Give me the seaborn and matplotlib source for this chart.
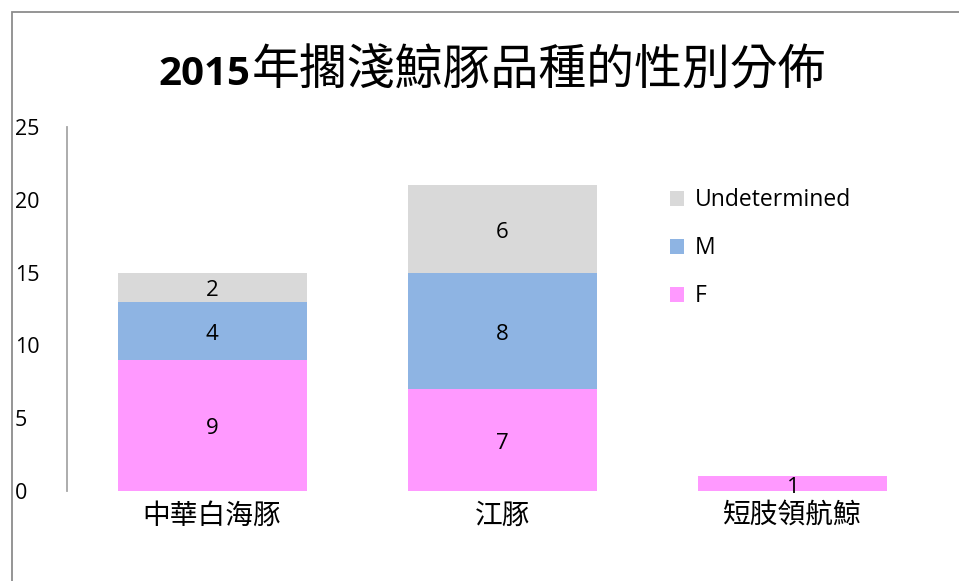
import matplotlib
matplotlib.use("Agg")
import matplotlib.pyplot as plt
import matplotlib.transforms as mtransforms
import seaborn as sns
import numpy as np
from matplotlib.patches import Patch, Rectangle

# ---- data ----
species = ["中華白海豚", "江豚", "短肢領航鯨"]
female = [9, 7, 1]
male = [4, 8, 0]
undetermined = [2, 6, 0]
colors = {"F": "#FF99FF", "M": "#8EB4E3", "Undetermined": "#D9D9D9"}
legend_order = ["Undetermined", "M", "F"]
yticks = [0, 5, 10, 15, 20, 25]
title_num = "2015"
title_rest = "年擱淺鯨豚品種的性別分佈"

sns.set_theme(style="white")
latin = ['Open Sans', 'DejaVu Sans']
cjk = ['Noto Sans CJK TC', 'DejaVu Sans']
plt.rcParams['font.family'] = ['Open Sans', 'Noto Sans CJK TC', 'DejaVu Sans']
plt.rcParams['text.color'] = 'black'
plt.rcParams['xtick.color'] = 'black'
plt.rcParams['ytick.color'] = 'black'

fig = plt.figure(figsize=(9.59, 5.81), dpi=100)
W, H = 959, 581
ax = fig.add_axes([67 / W, 1 - 491 / H, (938 - 67) / W, (491 - 127) / H])

f = np.array(female)
m = np.array(male)
u = np.array(undetermined)
fm = f + m
tot = fm + u

sns.barplot(x=species, y=tot, color=colors["Undetermined"], saturation=1,
            width=0.65, ax=ax, order=species)
sns.barplot(x=species, y=fm, color=colors["M"], saturation=1,
            width=0.65, ax=ax, order=species)
sns.barplot(x=species, y=f, color=colors["F"], saturation=1,
            width=0.65, ax=ax, order=species)
for p in ax.patches:
    p.set_linewidth(0)

# segment labels (shifted slightly down like the reference)
lab_tr = mtransforms.offset_copy(ax.transData, fig=fig, x=0, y=-3.5, units='dots')
for i in range(len(species)):
    segs = [(0, f[i]), (f[i], m[i]), (fm[i], u[i])]
    for base, val in segs:
        if val > 0:
            ax.text(i, base + val / 2, str(val), ha='center', va='center',
                    fontsize=16, color='black', family=latin, transform=lab_tr)

ax.set_xlim(-0.5, 2.5)
ax.set_ylim(0, 25)
ax.set_yticks(yticks)
ax.set_yticklabels([str(t) for t in yticks], fontsize=15.5, family=latin, color='black')
for lab in ax.get_yticklabels():
    lab.set_ha('left')
ax.tick_params(axis='y', length=0, pad=(67 - 15) * 0.72)
ax.tick_params(axis='x', length=0, pad=7)
ax.set_xticks(range(len(species)))
ax.set_xticklabels(species, fontsize=20, family=cjk, color='black')
ax.set_xlabel("")
ax.set_ylabel("")

for s in ["top", "right", "bottom"]:
    ax.spines[s].set_visible(False)
ax.spines["left"].set_color("#A6A6A6")
ax.spines["left"].set_linewidth(1.3)
ax.grid(False)

# legend
handles = [Patch(facecolor=colors[n], edgecolor='none') for n in legend_order]
leg = fig.legend(handles, legend_order, loc='upper left',
                 bbox_to_anchor=(661 / W, 1 - 179 / H), frameon=False,
                 fontsize=16.5, handlelength=0.62, handleheight=0.62,
                 handletextpad=0.45, labelspacing=1.05, borderaxespad=0)
for t in leg.get_texts():
    t.set_color('black')

# figure frame (top & left visible)
fig.patches.append(Rectangle((12 / W, -0.5), 2.0, (1 - 12 / H) + 0.5,
                             transform=fig.transFigure, fill=False,
                             edgecolor="#8C8C8C", linewidth=1.3, zorder=0))

# title: bold digits + regular CJK, shared baseline
fig.canvas.draw()
renderer = fig.canvas.get_renderer()
ty = 1 - 85 / H
t1 = fig.text(0, ty, title_num, fontsize=29, fontweight='bold', va='baseline', ha='left',
              family=latin, color='black')
t2 = fig.text(0, ty, title_rest, fontsize=34.5, va='baseline', ha='left', family=cjk,
              color='black')
w1 = t1.get_window_extent(renderer).width
w2 = t2.get_window_extent(renderer).width
cx = 492
x0 = cx - (w1 + w2) / 2
t1.set_x(x0 / W)
t2.set_x((x0 + w1 + 1) / W)

fig.savefig("out.png", dpi=100)
